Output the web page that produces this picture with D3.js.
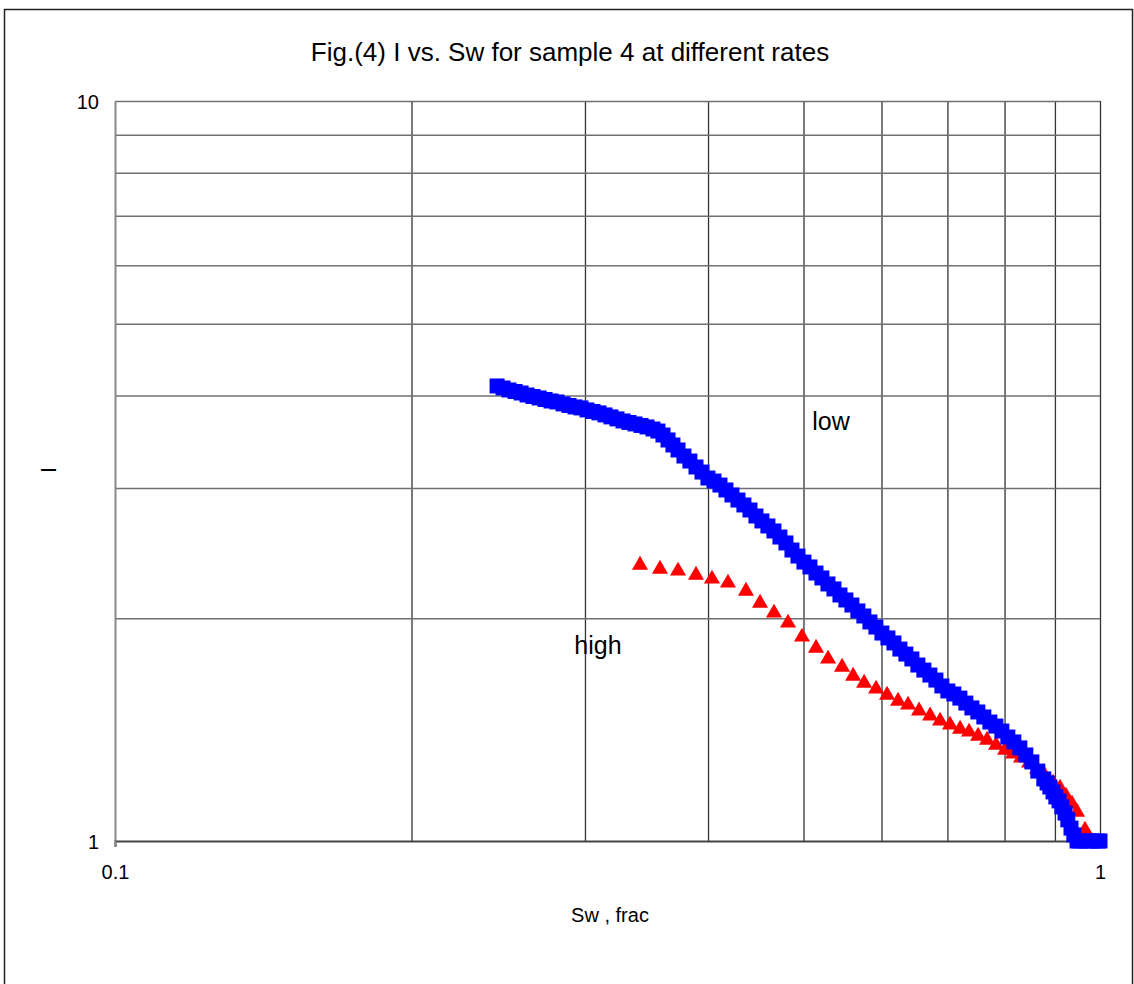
<!DOCTYPE html>
<html>
<head>
<meta charset="utf-8">
<script src="https://cdnjs.cloudflare.com/ajax/libs/d3/7.8.5/d3.min.js"></script>
<style>
  body { margin: 0; background: #fff; }
  text { font-family: 'Liberation Sans', Arial, sans-serif; fill: #000; }
</style>
</head>
<body>
<div id="chart"></div>
<script>
// low rate series (blue squares)
const lowSw = [
    0.2443, 0.2477, 0.2512, 0.2548, 0.2584, 0.2620, 0.2657, 0.2695, 0.2733, 0.2771,
    0.2810, 0.2850, 0.2890, 0.2931, 0.2972, 0.3014, 0.3057, 0.3100, 0.3144, 0.3188,
    0.3233, 0.3279, 0.3325, 0.3372, 0.3420, 0.3468, 0.3517, 0.3558, 0.3600, 0.3643,
    0.3685, 0.3729, 0.3781, 0.3834, 0.3889, 0.3944, 0.3999, 0.4056, 0.4113, 0.4171,
    0.4230, 0.4290, 0.4350, 0.4412, 0.4474, 0.4537, 0.4601, 0.4666, 0.4732, 0.4799,
    0.4867, 0.4936, 0.5005, 0.5076, 0.5148, 0.5220, 0.5294, 0.5369, 0.5445, 0.5521,
    0.5599, 0.5678, 0.5758, 0.5840, 0.5922, 0.6006, 0.6091, 0.6177, 0.6264, 0.6352,
    0.6442, 0.6533, 0.6625, 0.6719, 0.6814, 0.6910, 0.7007, 0.7106, 0.7207, 0.7308,
    0.7412, 0.7516, 0.7622, 0.7730, 0.7839, 0.7950, 0.8062, 0.8176, 0.8291, 0.8408,
    0.8527, 0.8647, 0.8769, 0.8836, 0.8893, 0.8960, 0.9019, 0.9087, 0.9146, 0.9215,
    0.9275, 0.9345, 0.9406, 0.9477, 0.9539, 0.9674, 0.9810, 0.9949, 1.0000
];
const lowI = [
    4.120, 4.094, 4.069, 4.050, 4.031, 4.006, 3.987, 3.969, 3.950, 3.932,
    3.920, 3.896, 3.878, 3.860, 3.848, 3.824, 3.806, 3.789, 3.765, 3.742,
    3.719, 3.695, 3.678, 3.661, 3.644, 3.627, 3.604, 3.581, 3.537, 3.483,
    3.429, 3.376, 3.313, 3.262, 3.202, 3.152, 3.094, 3.065, 3.027, 2.981,
    2.935, 2.889, 2.845, 2.801, 2.749, 2.707, 2.665, 2.624, 2.575, 2.528,
    2.473, 2.427, 2.382, 2.346, 2.302, 2.267, 2.225, 2.191, 2.150, 2.117,
    2.084, 2.046, 2.014, 1.977, 1.946, 1.910, 1.881, 1.852, 1.817, 1.789,
    1.762, 1.729, 1.702, 1.676, 1.650, 1.620, 1.595, 1.580, 1.560, 1.536,
    1.513, 1.494, 1.471, 1.448, 1.430, 1.408, 1.382, 1.361, 1.336, 1.307,
    1.279, 1.243, 1.213, 1.198, 1.183, 1.165, 1.147, 1.133, 1.112, 1.091,
    1.068, 1.041, 1.019, 1.000, 1.000, 1.000, 1.000, 1.000, 1.000
];

// high rate series (red triangles)
const highSw = [
    0.3412, 0.3575, 0.3729, 0.3889, 0.4037, 0.4191, 0.4371, 0.4517, 0.4667, 0.4823,
    0.4983, 0.5149, 0.5296, 0.5472, 0.5615, 0.5761, 0.5925, 0.6079, 0.6237, 0.6385,
    0.6551, 0.6722, 0.6881, 0.7043, 0.7210, 0.7363, 0.7520, 0.7680, 0.7843, 0.8010,
    0.8161, 0.8315, 0.8472, 0.8632, 0.8795, 0.8960, 0.9108, 0.9236, 0.9367, 0.9477,
    0.9655
];
const highI = [
    2.360, 2.331, 2.317, 2.288, 2.260, 2.232, 2.177, 2.097, 2.033, 1.971,
    1.887, 1.823, 1.762, 1.718, 1.671, 1.635, 1.605, 1.575, 1.546, 1.527,
    1.499, 1.476, 1.453, 1.435, 1.417, 1.404, 1.386, 1.369, 1.348, 1.327,
    1.311, 1.295, 1.275, 1.251, 1.224, 1.198, 1.179, 1.150, 1.122, 1.094,
    1.035
];

const xTickLabels = [0.1, 1];
const yTickLabels = [1, 10];
const xGrid = [0.2, 0.3, 0.4, 0.5, 0.6, 0.7, 0.8, 0.9, 1];
const yGrid = [2, 3, 4, 5, 6, 7, 8, 9, 10];

const margin = { top: 101, left: 115 };
const width = 985;
const height = 740;

const svg = d3.select('#chart')
    .append('svg')
    .attr('width', 1134)
    .attr('height', 984);

// outer frame
svg.append('rect')
    .attr('x', 4.5)
    .attr('y', 9.5)
    .attr('width', 1128)
    .attr('height', 990)
    .style('fill', 'none')
    .attr('stroke', '#222')
    .attr('stroke-width', 1.5);

svg.append('text')
    .attr('x', 570)
    .attr('y', 61)
    .attr('text-anchor', 'middle')
    .style('font-size', '26px')
    .text('Fig.(4) I vs. Sw for sample 4 at different rates');

const g = svg.append('g')
    .attr('transform', `translate(${margin.left}, ${margin.top})`);

const xScale = d3.scaleLog().domain([0.1, 1]).range([0, width]);
const yScale = d3.scaleLog().domain([1, 10]).range([height, 0]);

// grid lines
g.append('g')
    .attr('transform', `translate(0, ${height})`)
    .call(d3.axisBottom(xScale).tickValues(xGrid).tickSize(-height).tickFormat(''))
    .call(s => s.select('.domain').remove())
    .selectAll('line')
    .attr('stroke', '#333')
    .attr('stroke-width', 1.3);

g.append('g')
    .call(d3.axisLeft(yScale).tickValues(yGrid).tickSize(-width).tickFormat(''))
    .call(s => s.select('.domain').remove())
    .selectAll('line')
    .attr('stroke', '#707070')
    .attr('stroke-width', 1.5);

// axes
const yAxis = g.append('g')
    .call(d3.axisLeft(yScale).tickValues(yTickLabels).tickSize(0).tickPadding(16)
        .tickFormat(d3.format('d')));
yAxis.select('.domain')
    .attr('stroke', '#888')
    .attr('stroke-width', 2);
yAxis.selectAll('text')
    .style('font-size', '20px')
    .attr('dy', '0.36em');

const xAxis = g.append('g')
    .attr('transform', `translate(0, ${height})`)
    .call(d3.axisBottom(xScale).tickValues(xTickLabels).tickSize(6).tickPadding(18)
        .tickFormat(d => d === 1 ? '1' : '0.1'));
xAxis.select('.domain')
    .attr('stroke', '#444')
    .attr('stroke-width', 2);
xAxis.selectAll('line')
    .attr('stroke', '#888')
    .attr('stroke-width', 2);
xAxis.selectAll('text')
    .style('font-size', '20px');

// series
const highData = highSw.map((s, i) => ({ sw: s, ri: highI[i] }));
const lowData = lowSw.map((s, i) => ({ sw: s, ri: lowI[i] }));

g.selectAll('.high')
    .data(highData)
    .enter()
    .append('path')
    .attr('class', 'high')
    .attr('d', d3.symbol().type(d3.symbolTriangle).size(112))
    .attr('transform', d => `translate(${xScale(d.sw)}, ${yScale(d.ri)})`)
    .style('fill', '#ff0000');

g.selectAll('.low')
    .data(lowData)
    .enter()
    .append('path')
    .attr('class', 'low')
    .attr('d', d3.symbol().type(d3.symbolSquare).size(225))
    .attr('transform', d => `translate(${xScale(d.sw)}, ${yScale(d.ri)})`)
    .style('fill', '#0000ff');

// labels
svg.append('text')
    .attr('x', 831)
    .attr('y', 430)
    .attr('text-anchor', 'middle')
    .style('font-size', '25px')
    .text('low');

svg.append('text')
    .attr('x', 598)
    .attr('y', 654)
    .attr('text-anchor', 'middle')
    .style('font-size', '25px')
    .text('high');

svg.append('text')
    .attr('x', 610)
    .attr('y', 922)
    .attr('text-anchor', 'middle')
    .style('font-size', '20px')
    .text('Sw , frac');

svg.append('text')
    .attr('transform', 'translate(56, 470) rotate(-90)')
    .attr('text-anchor', 'middle')
    .style('font-size', '22px')
    .text('I');
</script>
</body>
</html>
